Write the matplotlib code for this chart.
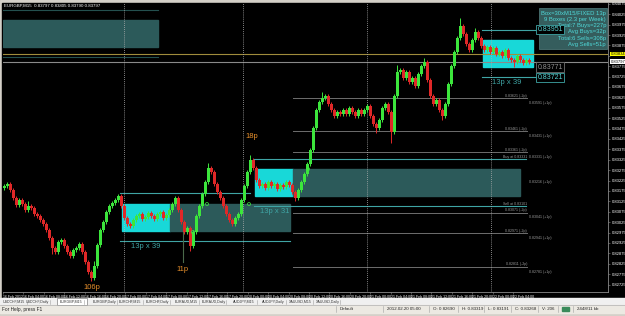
import matplotlib.pyplot as plt
import matplotlib.transforms as mtransforms
from matplotlib.patches import Rectangle
import numpy as np

plt.rcParams['font.family'] = ['Liberation Sans', 'DejaVu Sans']

# EURGBP M15 closes (one candle per slot)
closes = [
    0.83199, 0.83208, 0.83179, 0.83141, 0.83107, 0.83131, 0.83112, 0.83083, 0.83102, 0.83093,
    0.83064, 0.83054, 0.83035, 0.83016, 0.82987, 0.82949, 0.82900, 0.82881, 0.82929, 0.82939,
    0.82910, 0.82881, 0.82862, 0.82891, 0.82900, 0.82920, 0.82881, 0.82833, 0.82785, 0.82756,
    0.82814, 0.82915, 0.82987, 0.83025, 0.83074, 0.83102, 0.83117, 0.83131, 0.83150, 0.83102,
    0.83045, 0.83016, 0.83006, 0.83035, 0.83054, 0.83064, 0.83040, 0.83050, 0.83069, 0.83054,
    0.83040, 0.83064, 0.83074, 0.83045, 0.83059, 0.83083, 0.83112, 0.83141, 0.83083, 0.83025,
    0.82977, 0.82997, 0.82910, 0.82977, 0.83054, 0.83102, 0.83160, 0.83218, 0.83285, 0.83266,
    0.83208, 0.83170, 0.83141, 0.83102, 0.83064, 0.83035, 0.83016, 0.83045, 0.83064, 0.83131,
    0.83199, 0.83266, 0.83324, 0.83285, 0.83228, 0.83199, 0.83208, 0.83189, 0.83218, 0.83199,
    0.83208, 0.83184, 0.83203, 0.83194, 0.83218, 0.83203, 0.83170, 0.83141, 0.83179, 0.83218,
    0.83256, 0.83305, 0.83372, 0.83478, 0.83564, 0.83603, 0.83622, 0.83632, 0.83593, 0.83564,
    0.83535, 0.83555, 0.83545, 0.83564, 0.83545, 0.83574, 0.83555, 0.83535, 0.83564, 0.83545,
    0.83564, 0.83583, 0.83535, 0.83497, 0.83478, 0.83516, 0.83574, 0.83593, 0.83555, 0.83458,
    0.83632, 0.83747, 0.83757, 0.83718, 0.83747, 0.83699, 0.83718, 0.83680, 0.83737, 0.83776,
    0.83795, 0.83709, 0.83632, 0.83593, 0.83612, 0.83564, 0.83535, 0.83593, 0.83689, 0.83776,
    0.83843, 0.83911, 0.83968, 0.83930, 0.83882, 0.83853, 0.83901, 0.83939, 0.83911, 0.83872,
    0.83853, 0.83867, 0.83843, 0.83862, 0.83834, 0.83843, 0.83824, 0.83853, 0.83814, 0.83805,
    0.83795, 0.83824, 0.83805, 0.83790, 0.83805, 0.83795,
]
first_open = 0.83190
spike_highs = {8: 0.83125, 30: 0.82840, 68: 0.83310, 82: 0.83348, 106: 0.83650,
               131: 0.83780, 140: 0.83815, 152: 0.84006, 157: 0.83960}
spike_lows = {16: 0.82870, 29: 0.82742, 62: 0.82885, 97: 0.83125, 124: 0.83455,
              129: 0.83406, 146: 0.83516, 170: 0.83770}

# box breakout boxes: cyan part from left to split, dark part from split to right
box_left = [-0.5, 39.2, 83.5, 159.5]
box_split = [-0.5, 55.2, 96.2, 176.2]
box_right = [51.2, 95.2, 171.8, 176.2]
box_low = [0.83867, 0.82983, 0.83151, 0.83771]
box_pips = 13
box_counts = [None, 39, 31, 39]
label_pos = [None, (47.2, 0.82910), (90.2, 0.83074), (167.5, 0.83699)]

# buy / sell entry lines (5 pips outside each box)
buy_from = [-0.5, 38.5, 83.2, 159.2]
buy_to = [51.2, 81.8, 173.8, 177.5]
sell_from = [-0.5, 38.5, 83.2, 159.2]
sell_to = [51.2, 95.2, 173.8, 177.5]
line_colors = ['#24504f', '#3fa5a5', '#3fa5a5', '#3fa5a5']

target_prices = [0.83621, 0.83461, 0.83361, 0.83071, 0.82971, 0.82811]
target_from, target_to = 96.2, 174.2

yellow_line = 0.83834
bid_line = 0.83797
day_breaks = [39.8, 79.5, 120.8, 162.2]

date_labels = ['16 Feb 2012'] + [f'16 Feb {h:02d}:00' for h in (4, 8, 12, 16, 20)]
for d in ('17', '20', '21'):
    date_labels += [f'{d} Feb {h:02d}:00' for h in (0, 4, 8, 12, 16, 20)]
date_labels += ['22 Feb 00:00', '22 Feb 04:00']

move_labels = [('106p', 29.2, 0.82713), ('11p', 59.2, 0.82799), ('18p', 82.5, 0.83439)]
info_lines = ['Box=30xM15/FIXED 13p', '9 Boxes (2.3 per Week)', 'Total:7 Buys=227p',
              'Avg Buys=32p', 'Total:6 Sells=308p', 'Avg Sells=51p']
tabs = ['USDCHF,M15', 'USDCHF,Daily', 'EURGBP,M15', 'EURGBP,Daily', 'EURCHF,M15',
        'EURCHF,Daily', 'EURAUD,M15', 'EURAUD,Daily', 'AUDJPY,M15', 'AUDJPY,Daily',
        'XAUUSD,M15', 'XAUUSD,Daily']
status = ['Default', '2012.02.20 05:00', 'O: 0.82690', 'H: 0.83319', 'L: 0.83191',
          'C: 0.83268', 'V: 206', '', '2448/11 kb']

CYAN = '#18d8d8'
TEAL = '#2c5a5a'
LINE = '#3fa5a5'
GREY = '#6e6e6e'

fig = plt.figure(figsize=(6.25, 3.16), dpi=100)

# window frame in pixel coordinates
ui = fig.add_axes([0, 0, 1, 1], zorder=0)
ui.set_xlim(0, 625)
ui.set_ylim(316, 0)
ui.axis('off')
ui.add_patch(Rectangle((0, 0), 625, 316, color='#d4d0c8'))
ui.add_patch(Rectangle((2, 3), 623, 295, color='black'))
ui.add_patch(Rectangle((0, 298), 625, 7, color='#f0f0f0'))
ui.add_patch(Rectangle((0, 305), 625, 8, color='#ece9e2'))
ui.plot([0, 625], [305, 305], color='#b0b0b0', lw=0.5)

tab_x = [3, 26, 60, 93, 119, 146, 175, 202, 233, 262, 289, 316]
for t, x in zip(tabs, tab_x):
    if t == 'EURGBP,M15':
        ui.add_patch(Rectangle((x - 3, 298), 30, 7, facecolor='white', edgecolor='#808080', lw=0.5))
    ui.text(x, 301.5, t, fontsize=2.6, color='#333333', va='center')
    ui.plot([x + 24, x + 24], [299.5, 303.5], color='#a0a0a0', lw=0.4)

ui.text(2, 309, 'For Help, press F1', fontsize=3.4, color='#222222', va='center')
stat_x = [340, 387, 433, 462, 488, 515, 542, 562, 577]
for s, x in zip(status, stat_x):
    ui.plot([x - 4, x - 4], [306, 312], color='#a0a0a0', lw=0.4)
    ui.text(x, 309, s, fontsize=3.2, color='#222222', va='center')
ui.add_patch(Rectangle((562, 306.5), 7, 4, color='#3a8a5a'))

# chart
ax = fig.add_axes([3 / 625, 1 - 292 / 316, 605 / 625, 289 / 316], zorder=2)
ax.set_facecolor('black')
ax.set_xlim(-0.5, 201.17)
ax.set_ylim(0.82689, 0.84079)
px = ui.transData

for k in range(4):
    lo = box_low[k]
    hi = lo + box_pips * 0.0001
    if box_split[k] > box_left[k]:
        ax.add_patch(Rectangle((box_left[k], lo), box_split[k] - box_left[k], hi - lo,
                               color=CYAN, zorder=1))
    if box_right[k] > box_split[k]:
        ax.add_patch(Rectangle((box_split[k], lo), box_right[k] - box_split[k], hi - lo,
                               color=TEAL, zorder=1))
    ax.plot([buy_from[k], buy_to[k]], [hi + 0.0005] * 2, color=line_colors[k], lw=0.8, zorder=2)
    ax.plot([sell_from[k], sell_to[k]], [lo - 0.0005] * 2, color=line_colors[k], lw=0.8, zorder=2)
    if box_counts[k]:
        lx, ly = label_pos[k]
        ax.text(lx, ly, f'{box_pips}p x {box_counts[k]}', color=LINE, fontsize=5.5,
                ha='center', va='center', zorder=6)

for p in target_prices:
    ax.plot([target_from, target_to], [p, p], color=GREY, lw=0.7, zorder=2)
    ax.text(target_to, p + 0.00003, f'{p:.5f} (-2p)', color='#9a9a9a', fontsize=2.6,
            ha='right', va='bottom', zorder=6)
    ax.text(target_to + 0.5, p - 0.00014, f'{p - 0.0003:.5f} (+1p)', color='#9a9a9a',
            fontsize=2.6, ha='left', va='top', zorder=6)
ax.text(target_to, box_low[2] + 0.0018, f'Buy at {box_low[2] + 0.0018:.5f}',
        color='#9a9a9a', fontsize=2.6, ha='right', va='bottom', zorder=6)
ax.text(target_to, box_low[2] - 0.0005, f'Sell at {box_low[2] - 0.0005:.5f}',
        color='#9a9a9a', fontsize=2.6, ha='right', va='bottom', zorder=6)
ax.text(target_to + 0.5, box_low[2] + 0.00065, f'{box_low[2] + 0.00065:.5f} (+1p)',
        color='#9a9a9a', fontsize=2.6, ha='left', va='center', zorder=6)

ax.axhline(yellow_line, color='#a08c3c', lw=0.8, zorder=2)
ax.axhline(bid_line, color='#8a8a8a', lw=0.8, zorder=2)
for d in day_breaks:
    ax.axvline(d, color='#b0b0b0', lw=0.6, ls=(0, (1, 1.5)), zorder=2)

# candles
opens = [first_open] + closes[:-1]
for i, (o, c) in enumerate(zip(opens, closes)):
    col = '#3ce63c' if c >= o else '#e02828'
    hi = spike_highs.get(i, max(o, c) + 0.00010)
    lo = spike_lows.get(i, min(o, c) - 0.00010)
    ax.vlines(i, lo, hi, color=col, lw=0.7, zorder=4)
    ax.bar(i, max(abs(c - o), 0.00004), bottom=min(o, c), width=0.8, color=col,
           lw=0, zorder=4)

for txt, x, y in move_labels:
    ax.text(x, y, txt, color='#e8902c', fontsize=5.5, ha='center', va='center', zorder=6)
ax.plot([59.5, 59.5], [0.82977, 0.82833], color='#4a6a4a', lw=0.8, zorder=3)
ax.scatter([62.8, 67.5, 81.5, 101.2], [0.82977, 0.83112, 0.83112, 0.83280],
           s=5, facecolors='none', edgecolors='#3ce63c', lw=0.5, zorder=5)

# title and statistics panel (pixel coordinates, drawn inside the chart)
ax.text(4, 6, 'EURGBP,M15  0.83797 0.83805 0.83790 0.83797', transform=px, fontsize=3.2,
        color='white', va='center', zorder=9)
ax.add_patch(Rectangle((539, 8), 68, 41, facecolor='#3b6868', edgecolor='#5a8a8a',
                       lw=0.5, alpha=0.9, transform=px, zorder=6))
for j, line in enumerate(info_lines):
    ax.text(606, 13 + j * 6.3, line, transform=px, fontsize=4.2, color='#4fd8d8',
            ha='right', va='center', zorder=7)

# price tags of the running box
for p, col, edge in [(0.83951, '#5ad2d2', LINE), (0.83771, '#909090', '#707070'),
                     (0.83721, '#5ad2d2', LINE)]:
    ax.text(177.6, p, f'{p:.5f}', color=col, fontsize=5.0, ha='left', va='center', zorder=8,
            bbox=dict(boxstyle='square,pad=0.15', fc='black', ec=edge, lw=0.6))

for side in ('left', 'top'):
    ax.spines[side].set_visible(False)
for side in ('right', 'bottom'):
    ax.spines[side].set_color('#8a8a8a')
    ax.spines[side].set_linewidth(0.6)

tick_pos = -0.5 + 6.8 * np.arange(len(date_labels))
ax.set_xticks(tick_pos)
ax.set_xticklabels(date_labels, ha='left')
ax.tick_params(axis='x', colors='#8a8a8a', labelcolor='white', labelsize=2.5,
               length=1.5, width=0.4, pad=0.8)
ax.yaxis.tick_right()
yt = np.arange(0.82725, 0.84080, 0.0005)
ax.set_yticks(yt)
ax.set_yticklabels(['' if min(abs(v - yellow_line), abs(v - bid_line)) < 0.00018
                    else f'{v:.5f}' for v in yt])
ax.tick_params(axis='y', colors='#8a8a8a', labelcolor='white', labelsize=3.0,
               length=1.5, width=0.4, pad=1)

ytrans = mtransforms.blended_transform_factory(ax.transAxes, ax.transData)
ax.text(1.004, yellow_line, f'{yellow_line:.5f}', transform=ytrans, fontsize=3.0,
        color='black', va='center', clip_on=False, zorder=8,
        bbox=dict(boxstyle='square,pad=0.1', fc='#ffff00', ec='none'))
ax.text(1.004, bid_line, f'{bid_line:.5f}', transform=ytrans, fontsize=3.0,
        color='black', va='center', clip_on=False, zorder=8,
        bbox=dict(boxstyle='square,pad=0.1', fc='white', ec='none'))

fig.savefig('out.png', dpi=100, facecolor='black')
